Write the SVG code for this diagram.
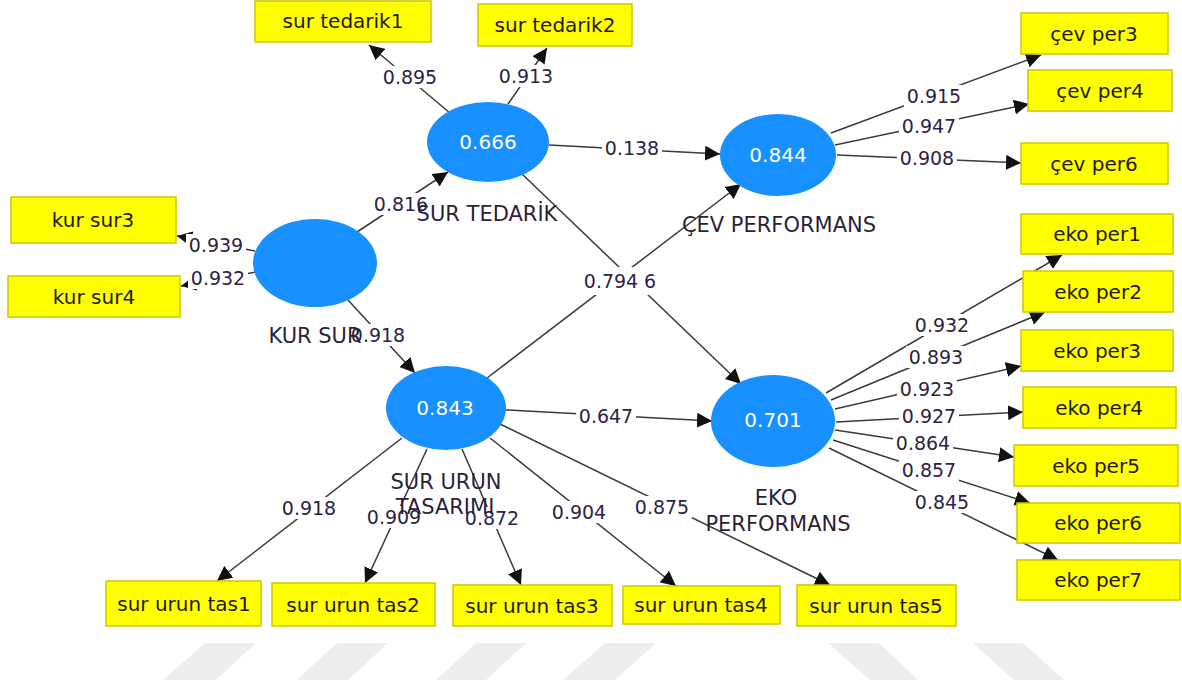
<svg xmlns="http://www.w3.org/2000/svg" width="1182" height="680" viewBox="0 0 1182 680">
  <style>
    .bg { fill: #ffffff; }
    .stripe { fill: #ededed; }
    .edge { stroke: #3a3a3a; stroke-width: 1.5; fill: none; marker-end: url(#arrow); }
    .lblbg { fill: #ffffff; }
    .num { font-family: "DejaVu Sans", Verdana, sans-serif; font-size: 19px; fill: #2d2346; text-anchor: middle; }
    .latent { fill: #1890ff; }
    .val { font-family: "DejaVu Sans", Verdana, sans-serif; font-size: 20px; fill: #ffffff; text-anchor: middle; }
    .name { font-family: "DejaVu Sans", Verdana, sans-serif; font-size: 21px; fill: #2d1f3a; text-anchor: middle; }
    .ind { fill: #ffff00; stroke: #c9c900; stroke-width: 1.5; }
    .indtxt { font-family: "DejaVu Sans", Verdana, sans-serif; font-size: 20px; fill: #1f1a00; text-anchor: middle; }
  </style>
  <defs>
    <marker id="arrow" markerUnits="userSpaceOnUse" markerWidth="15" markerHeight="15" viewBox="0 0 15 15" refX="15" refY="7.5" orient="auto">
      <path d="M0,0 L15,7.5 L0,15 Z" fill="#111111"/>
    </marker>
  </defs>

  <rect class="bg" x="0" y="0" width="1182" height="680"/>

  <!-- faint diagonal stripes along the bottom edge -->
  <g id="stripes">
    <polygon class="stripe" points="205,643 256,643 216,680 163,680"/>
    <polygon class="stripe" points="337,643 388,643 348,680 297,680"/>
    <polygon class="stripe" points="476,643 526,643 486,680 436,680"/>
    <polygon class="stripe" points="605,643 656,643 615,680 563,680"/>
    <polygon class="stripe" points="828,643 879,643 918,680 870,680"/>
    <polygon class="stripe" points="973,643 1023,643 1064,680 1014,680"/>
  </g>

  <!-- paths and loadings -->
  <g id="connectors">
    <line class="edge" x1="450" y1="113" x2="369" y2="45"/>
    <line class="edge" x1="508" y1="104" x2="547" y2="48"/>
    <line class="edge" x1="255" y1="251" x2="177" y2="236"/>
    <line class="edge" x1="256" y1="272" x2="181" y2="286"/>
    <line class="edge" x1="357" y1="232" x2="448" y2="172"/>
    <line class="edge" x1="348" y1="300" x2="415" y2="373"/>
    <line class="edge" x1="549" y1="145" x2="720" y2="154"/>
    <line class="edge" x1="522" y1="174" x2="741" y2="384"/>
    <line class="edge" x1="487" y1="378" x2="741" y2="184"/>
    <line class="edge" x1="506" y1="410" x2="712" y2="421"/>
    <line class="edge" x1="831" y1="133" x2="1041" y2="55"/>
    <line class="edge" x1="835" y1="145" x2="1029" y2="104"/>
    <line class="edge" x1="837" y1="155" x2="1021" y2="163"/>
    <line class="edge" x1="826" y1="393" x2="1062" y2="255"/>
    <line class="edge" x1="831" y1="400" x2="1045" y2="312"/>
    <line class="edge" x1="835" y1="409" x2="1021" y2="366"/>
    <line class="edge" x1="836" y1="422" x2="1023" y2="412"/>
    <line class="edge" x1="835" y1="430" x2="1014" y2="457"/>
    <line class="edge" x1="833" y1="440" x2="1030" y2="503"/>
    <line class="edge" x1="829" y1="448" x2="1058" y2="560"/>
    <line class="edge" x1="402" y1="438" x2="217" y2="581"/>
    <line class="edge" x1="427" y1="449" x2="365" y2="583"/>
    <line class="edge" x1="462" y1="449" x2="521" y2="585"/>
    <line class="edge" x1="490" y1="438" x2="676" y2="586"/>
    <line class="edge" x1="500" y1="424" x2="830" y2="585"/>

    <!-- label backgrounds -->
    <rect class="lblbg" x="380" y="66" width="60" height="22"/>
    <rect class="lblbg" x="496" y="65" width="60" height="22"/>
    <rect class="lblbg" x="186" y="234" width="60" height="22"/>
    <rect class="lblbg" x="188" y="267" width="60" height="22"/>
    <rect class="lblbg" x="371" y="193" width="60" height="22"/>
    <rect class="lblbg" x="348" y="324" width="60" height="22"/>
    <rect class="lblbg" x="602" y="137" width="60" height="22"/>
    <rect class="lblbg" x="581" y="267" width="78" height="28"/>
    <rect class="lblbg" x="576" y="405" width="60" height="22"/>
    <rect class="lblbg" x="904" y="85" width="60" height="22"/>
    <rect class="lblbg" x="899" y="115" width="60" height="22"/>
    <rect class="lblbg" x="897" y="147" width="60" height="22"/>
    <rect class="lblbg" x="912" y="314" width="60" height="22"/>
    <rect class="lblbg" x="906" y="346" width="60" height="22"/>
    <rect class="lblbg" x="897" y="378" width="60" height="22"/>
    <rect class="lblbg" x="899" y="405" width="60" height="22"/>
    <rect class="lblbg" x="893" y="432" width="60" height="22"/>
    <rect class="lblbg" x="899" y="459" width="60" height="22"/>
    <rect class="lblbg" x="912" y="491" width="60" height="22"/>
    <rect class="lblbg" x="279" y="497" width="60" height="22"/>
    <rect class="lblbg" x="364" y="506" width="60" height="22"/>
    <rect class="lblbg" x="462" y="507" width="60" height="22"/>
    <rect class="lblbg" x="549" y="501" width="60" height="22"/>
    <rect class="lblbg" x="632" y="496" width="60" height="22"/>

    <!-- path coefficients and loadings -->
    <text class="num" x="410" y="84">0.895</text>
    <text class="num" x="526" y="83">0.913</text>
    <text class="num" x="216" y="252">0.939</text>
    <text class="num" x="218" y="285">0.932</text>
    <text class="num" x="401" y="211">0.816</text>
    <text class="num" x="378" y="342">0.918</text>
    <text class="num" x="632" y="155">0.138</text>
    <text class="num" x="611" y="288">0.794</text>
    <text class="num" x="650" y="288">6</text>
    <text class="num" x="606" y="423">0.647</text>
    <text class="num" x="934" y="103">0.915</text>
    <text class="num" x="929" y="133">0.947</text>
    <text class="num" x="927" y="165">0.908</text>
    <text class="num" x="942" y="332">0.932</text>
    <text class="num" x="936" y="364">0.893</text>
    <text class="num" x="927" y="396">0.923</text>
    <text class="num" x="929" y="423">0.927</text>
    <text class="num" x="923" y="450">0.864</text>
    <text class="num" x="929" y="477">0.857</text>
    <text class="num" x="942" y="509">0.845</text>
    <text class="num" x="309" y="515">0.918</text>
    <text class="num" x="394" y="524">0.909</text>
    <text class="num" x="492" y="525">0.872</text>
    <text class="num" x="579" y="519">0.904</text>
    <text class="num" x="662" y="514">0.875</text>
  </g>

  <!-- latent variables -->
  <g id="kur-sur">
    <ellipse class="latent" cx="315" cy="263" rx="62" ry="44"/>
    <text class="name" x="315" y="343">KUR SUR</text>
  </g>
  <g id="sur-tedarik">
    <ellipse class="latent" cx="488" cy="142" rx="61" ry="40"/>
    <text class="val" x="488" y="149">0.666</text>
    <text class="name" x="487" y="221">SUR TEDARİK</text>
  </g>
  <g id="cev-performans">
    <ellipse class="latent" cx="778" cy="155" rx="58" ry="41"/>
    <text class="val" x="778" y="162">0.844</text>
    <text class="name" x="779" y="232">ÇEV PERFORMANS</text>
  </g>
  <g id="sur-urun-tasarimi">
    <ellipse class="latent" cx="446" cy="408" rx="60" ry="42"/>
    <text class="val" x="445" y="415">0.843</text>
    <text class="name" x="446" y="489">SUR URUN</text>
    <text class="name" x="445" y="514">TASARIMI</text>
  </g>
  <g id="eko-performans">
    <ellipse class="latent" cx="773" cy="421" rx="62" ry="46"/>
    <text class="val" x="773" y="427">0.701</text>
    <text class="name" x="776" y="505">EKO</text>
    <text class="name" x="778" y="531">PERFORMANS</text>
  </g>

  <!-- indicators -->
  <g id="sur-tedarik1"><rect class="ind" x="255" y="1" width="176" height="41"/><text class="indtxt" x="343" y="28">sur tedarik1</text></g>
  <g id="sur-tedarik2"><rect class="ind" x="478" y="4" width="154" height="42"/><text class="indtxt" x="555" y="32">sur tedarik2</text></g>
  <g id="kur-sur3"><rect class="ind" x="11" y="197" width="165" height="46"/><text class="indtxt" x="93" y="227">kur sur3</text></g>
  <g id="kur-sur4"><rect class="ind" x="8" y="276" width="172" height="41"/><text class="indtxt" x="94" y="304">kur sur4</text></g>
  <g id="cev-per3"><rect class="ind" x="1021" y="13" width="147" height="41"/><text class="indtxt" x="1094" y="41">çev per3</text></g>
  <g id="cev-per4"><rect class="ind" x="1028" y="70" width="144" height="41"/><text class="indtxt" x="1100" y="98">çev per4</text></g>
  <g id="cev-per6"><rect class="ind" x="1021" y="143" width="147" height="41"/><text class="indtxt" x="1094" y="171">çev per6</text></g>
  <g id="eko-per1"><rect class="ind" x="1021" y="214" width="152" height="40"/><text class="indtxt" x="1097" y="241">eko per1</text></g>
  <g id="eko-per2"><rect class="ind" x="1023" y="271" width="150" height="41"/><text class="indtxt" x="1098" y="299">eko per2</text></g>
  <g id="eko-per3"><rect class="ind" x="1021" y="330" width="152" height="41"/><text class="indtxt" x="1097" y="358">eko per3</text></g>
  <g id="eko-per4"><rect class="ind" x="1023" y="387" width="153" height="41"/><text class="indtxt" x="1099" y="415">eko per4</text></g>
  <g id="eko-per5"><rect class="ind" x="1014" y="445" width="164" height="41"/><text class="indtxt" x="1096" y="473">eko per5</text></g>
  <g id="eko-per6"><rect class="ind" x="1017" y="503" width="163" height="40"/><text class="indtxt" x="1098" y="530">eko per6</text></g>
  <g id="eko-per7"><rect class="ind" x="1017" y="560" width="163" height="40"/><text class="indtxt" x="1098" y="587">eko per7</text></g>
  <g id="sur-urun-tas1"><rect class="ind" x="106" y="581" width="155" height="45"/><text class="indtxt" x="184" y="611">sur urun tas1</text></g>
  <g id="sur-urun-tas2"><rect class="ind" x="272" y="583" width="163" height="43"/><text class="indtxt" x="353" y="612">sur urun tas2</text></g>
  <g id="sur-urun-tas3"><rect class="ind" x="453" y="585" width="159" height="41"/><text class="indtxt" x="532" y="613">sur urun tas3</text></g>
  <g id="sur-urun-tas4"><rect class="ind" x="623" y="586" width="157" height="38"/><text class="indtxt" x="701" y="612">sur urun tas4</text></g>
  <g id="sur-urun-tas5"><rect class="ind" x="797" y="585" width="159" height="41"/><text class="indtxt" x="876" y="613">sur urun tas5</text></g>
</svg>
